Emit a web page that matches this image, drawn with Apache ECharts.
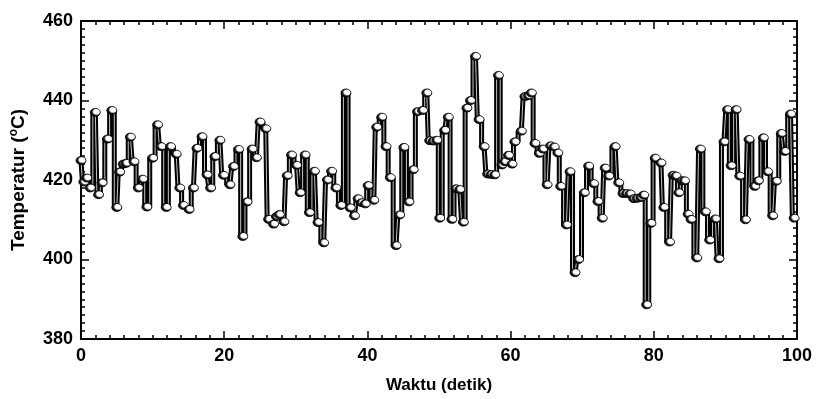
<!DOCTYPE html>
<html>
<head>
<meta charset="utf-8">
<title>Temperatur vs Waktu</title>
<script src="https://cdn.jsdelivr.net/npm/echarts@6/dist/echarts.min.js"></script>
<style>
  html, body { margin: 0; padding: 0; background: #fff; }
  #chart { width: 816px; height: 399px; }
</style>
</head>
<body>
<div id="chart"></div>
<script>
// waktu (detik) untuk tiap titik
var times = [
  0.0, 0.4, 0.8, 1.3, 2.0, 2.45, 2.95, 3.7, 4.3, 5.0,
  5.4, 5.9, 6.3, 6.9, 7.4, 8.0, 8.6, 9.2, 10.0, 10.7,
  11.2, 11.9, 12.5, 13.3, 13.8, 14.3, 15.1, 15.7, 16.2, 16.9,
  17.6, 18.1, 18.7, 19.4, 19.9, 20.8, 21.3, 22.0, 22.6, 23.2,
  23.9, 24.5, 25.0, 25.8, 26.2, 26.9, 27.3, 27.7, 28.35, 28.8,
  29.4, 30.1, 30.6, 31.3, 31.9, 32.6, 33.1, 33.9, 34.4, 35.0,
  35.6, 36.3, 37.0, 37.6, 38.2, 38.7, 39.2, 39.7, 40.1, 40.9,
  41.3, 42.0, 42.6, 43.2, 44.0, 44.5, 45.1, 45.8, 46.4, 47.0,
  47.7, 48.3, 48.7, 49.2, 49.7, 50.1, 50.8, 51.3, 51.8, 52.4,
  52.9, 53.4, 53.9, 54.4, 55.1, 55.6, 56.3, 56.8, 57.3, 57.8,
  58.3, 58.8, 59.2, 59.7, 60.2, 60.6, 61.5, 62.0, 62.5, 62.9,
  63.4, 64.0, 64.5, 65.1, 65.6, 66.1, 66.6, 67.0, 67.8, 68.3,
  69.0, 69.5, 70.3, 70.9, 71.6, 72.2, 72.8, 73.2, 73.7, 74.6,
  75.1, 75.7, 76.2, 76.7, 77.2, 77.7, 78.2, 78.6, 79.0, 79.6,
  80.2, 81.0, 81.4, 82.2, 82.7, 83.1, 83.5, 83.9, 84.3, 84.8,
  85.2, 86.0, 86.5, 87.2, 87.8, 88.6, 89.1, 89.8, 90.3, 90.8,
  91.5, 92.0, 92.8, 93.3, 94.1, 94.6, 95.3, 95.9, 96.6, 97.1,
  97.8, 98.3, 99.1, 99.6
]

// temperatur (oC)
var temps = [
  424.9, 419.5, 420.5, 418.0, 437.0, 416.3, 419.3, 430.3, 437.5, 413.1,
  422.0, 424.0, 424.2, 430.8, 424.6, 418.0, 420.2, 413.2, 425.5, 433.9,
  428.4, 413.1, 428.4, 426.5, 418.0, 413.6, 412.6, 418.0, 428.0, 430.9,
  421.3, 418.0, 425.9, 430.0, 421.2, 418.8, 423.4, 427.7, 405.8, 414.5,
  427.8, 425.6, 434.6, 432.9, 410.1, 408.9, 410.8, 411.3, 409.5, 421.1,
  426.3, 423.7, 416.8, 426.3, 411.8, 422.2, 409.3, 404.2, 420.0, 422.2,
  418.0, 413.6, 441.9, 413.0, 411.0, 415.3, 414.3, 414.0, 418.6, 414.9,
  433.3, 435.8, 428.4, 420.6, 403.5, 411.2, 428.2, 414.5, 422.6, 437.2,
  437.5, 441.9, 429.9, 429.8, 430.0, 410.4, 432.5, 435.8, 410.1, 417.8,
  417.6, 409.4, 438.1, 440.0, 451.1, 435.2, 428.4, 421.5, 421.4, 421.3,
  446.3, 423.8, 424.6, 426.2, 424.0, 429.6, 432.3, 441.0, 441.2, 441.9,
  429.2, 426.7, 427.8, 418.8, 428.6, 428.3, 426.8, 418.4, 408.7, 422.1,
  396.7, 400.0, 416.8, 423.5, 419.1, 414.6, 410.4, 423.0, 421.0, 428.4,
  419.3, 416.6, 416.6, 416.5, 415.3, 415.4, 415.6, 416.2, 388.6, 409.1,
  425.5, 424.3, 413.1, 404.4, 421.2, 421.0, 416.8, 419.8, 419.8, 411.4,
  410.1, 400.4, 427.8, 412.0, 404.9, 410.2, 400.2, 429.6, 437.7, 423.6,
  437.7, 421.0, 410.0, 430.2, 418.4, 419.8, 430.6, 422.1, 411.0, 419.7,
  431.7, 427.2, 436.6, 410.4
]

var xRange = [0, 100]
var yRange = [380, 460]
var tickStep = 20

var FONT = '"Liberation Sans", Arial, sans-serif'

var points = []
for (var i = 0; i < times.length; i++) {
  points.push([times[i], temps[i]])
}

function frameAxis(range, position, showLabels) {
  return {
    type: 'value',
    position: position,
    min: range[0],
    max: range[1],
    interval: tickStep,
    axisLine: { show: true, onZero: false, lineStyle: { color: '#000', width: 2 } },
    axisTick: { show: true, inside: true, length: 8, lineStyle: { color: '#000', width: 1.5 } },
    minorTick: { show: true, splitNumber: 10, length: 4, lineStyle: { color: '#000', width: 1.5 } },
    splitLine: { show: false },
    axisLabel: {
      show: showLabels,
      color: '#000',
      fontSize: 18,
      fontWeight: 'bold',
      fontFamily: FONT,
      margin: 8
    }
  }
}

var xBottom = frameAxis(xRange, 'bottom', true)
xBottom.name = 'Waktu (detik)'
xBottom.nameLocation = 'middle'
xBottom.nameGap = 38
xBottom.nameTextStyle = { color: '#000', fontSize: 17, fontWeight: 'bold', fontFamily: FONT }

var yLeft = frameAxis(yRange, 'left', true)
yLeft.name = 'Temperatur ({sup|o}C)'
yLeft.nameLocation = 'middle'
yLeft.nameGap = 51
yLeft.nameTextStyle = {
  color: '#000', fontSize: 19, fontWeight: 'bold', fontFamily: FONT, lineHeight: 22,
  rich: {
    sup: { fontSize: 12, fontWeight: 'bold', fontFamily: FONT, color: '#000', verticalAlign: 'top', lineHeight: 11 }
  }
}

var chart = echarts.init(document.getElementById('chart'), null, { renderer: 'canvas' })

chart.setOption({
  animation: false,
  backgroundColor: '#fff',
  grid: { left: 80, right: 19, top: 21, bottom: 56 },
  xAxis: [xBottom, frameAxis(xRange, 'top', false)],
  yAxis: [yLeft, frameAxis(yRange, 'right', false)],
  series: [
    {
      type: 'line',
      data: points,
      step: 'middle',
      symbol: 'none',
      lineStyle: { color: '#000', width: 5 },
      z: 2,
      silent: true
    },
    {
      type: 'line',
      data: points,
      step: 'middle',
      symbol: 'none',
      lineStyle: { color: '#c4c4c4', width: 1 },
      z: 3,
      silent: true
    },
    {
      type: 'scatter',
      data: points,
      symbol: 'circle',
      symbolSize: [10, 8],
      itemStyle: {
        color: {
          type: 'radial', x: 0.62, y: 0.42, r: 0.6,
          colorStops: [
            { offset: 0, color: '#ffffff' },
            { offset: 0.45, color: '#ffffff' },
            { offset: 0.7, color: '#222222' },
            { offset: 1, color: '#000000' }
          ]
        },
        borderColor: '#000',
        borderWidth: 0.8,
        opacity: 1
      },
      z: 4,
      silent: true
    }
  ]
})
</script>
</body>
</html>
